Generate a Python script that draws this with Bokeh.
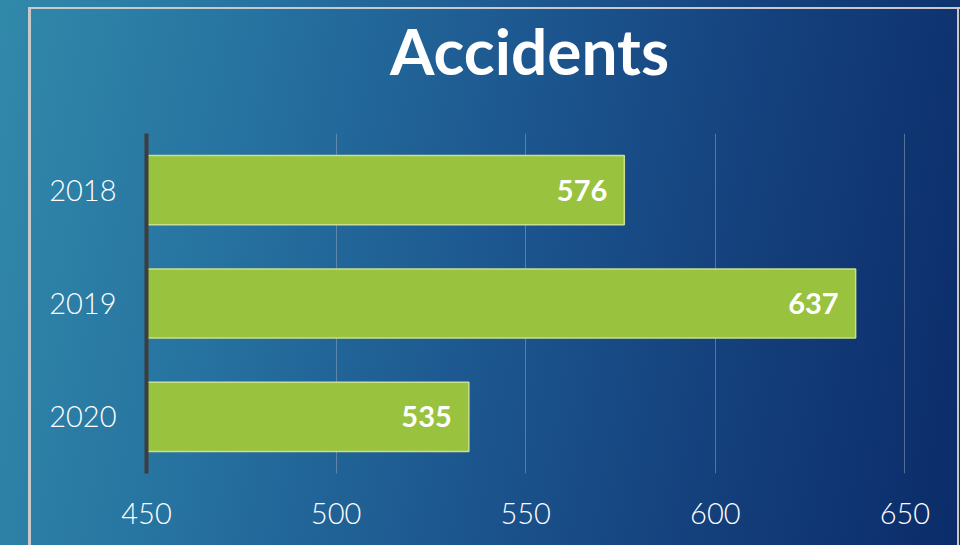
from bokeh.plotting import figure
from bokeh.models import FactorRange, Range1d, LabelSet, ColumnDataSource, FixedTicker, Title
from bokeh.core.properties import value
from bokeh.embed import file_html
from bokeh.resources import INLINE

years = ["2018", "2019", "2020"]
accidents = [576, 637, 535]
x_ticks = [450, 500, 550, 600, 650]
title_text = "Accidents"

base = x_ticks[0]
src = ColumnDataSource(dict(year=years, val=accidents, lab=[str(v) for v in accidents]))

bg = ("linear-gradient(#c9c9c9,#c9c9c9) 28px 7px / 3px 100% no-repeat, "
      "linear-gradient(#c9c9c9,#c9c9c9) 28px 7px / 100% 2px no-repeat, "
      "linear-gradient(#c9c9c9,#c9c9c9) 957px 7px / 2px 100% no-repeat, "
      "linear-gradient(100deg, #3189aa 0%, #2672a0 25%, #1d5890 50%, #14407c 75%, #0b2c69 100%)")

p = figure(width=960, height=545, output_backend="svg", toolbar_location=None, title=None,
           y_range=FactorRange(factors=years[::-1], range_padding=0),
           x_range=Range1d(base, x_ticks[-1] + 2),
           min_border_left=146, min_border_right=48, min_border_top=133, min_border_bottom=72,
           background_fill_color=None, border_fill_color=None, outline_line_color=None,
           styles={"background": bg})

# empty spacer title (closest to the frame) lifts the main title upwards
p.add_layout(Title(text=" ", text_font_size="1px", standoff=37), "above")
p.add_layout(Title(text=title_text, align="center", vertical_align="bottom", text_color="white",
                   text_font="Lato", text_font_style="bold", text_font_size="64px",
                   standoff=10), "above")

p.hbar(y="year", left=base, right="val", height=0.61, source=src,
       fill_color="#99c23e", line_color="#c9e08e", line_width=1.5)

labels = LabelSet(x="val", y="year", text="lab", source=src, x_offset=-17,
                  text_align="right", text_baseline="middle", text_color="white",
                  text_font=value("Lato"), text_font_style="bold", text_font_size="29px")
p.add_layout(labels)

p.xaxis.ticker = FixedTicker(ticks=x_ticks)
p.xaxis.axis_line_color = None
p.xaxis.major_tick_line_color = None
p.xaxis.minor_tick_line_color = None
p.xaxis.major_label_text_color = "white"
p.xaxis.major_label_text_font = "Lato Light"
p.xaxis.major_label_text_font_size = "29px"
p.xaxis.major_label_standoff = 23

p.yaxis.axis_line_color = "#3d3d3d"
p.yaxis.axis_line_width = 4
p.yaxis.major_tick_line_color = None
p.yaxis.minor_tick_line_color = None
p.yaxis.major_label_text_color = "white"
p.yaxis.major_label_text_font = "Lato Light"
p.yaxis.major_label_text_font_size = "29px"
p.yaxis.major_label_standoff = 24

p.xgrid.grid_line_color = "#8ea2b9"
p.xgrid.grid_line_alpha = 0.55
p.xgrid.grid_line_width = 1
p.ygrid.grid_line_color = None

open("out.html", "w").write(file_html(p, INLINE))
